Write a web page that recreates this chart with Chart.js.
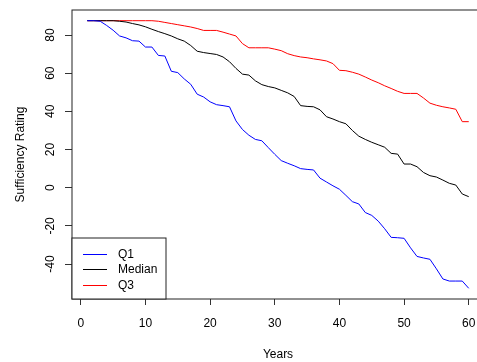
<!DOCTYPE html>
<html><head><meta charset="utf-8">
<script src="https://cdn.jsdelivr.net/npm/chart.js@4/dist/chart.umd.min.js"></script>
<style>html,body{margin:0;padding:0;overflow:hidden;background:#fff;width:477px;height:362px}canvas{display:block}</style>
</head><body>
<canvas id="c" width="490" height="362"></canvas>
<script>
const years = [1,2,3,4,5,6,7,8,9,10,11,12,13,14,15,16,17,18,19,20,21,22,23,24,25,26,27,28,29,30,
  31,32,33,34,35,36,37,38,39,40,41,42,43,44,45,46,47,48,49,50,51,52,53,54,55,56,57,58,59,60];
const q1 = [87.5,87.5,87.2,85.0,82.5,79.5,78.5,77.0,76.8,73.7,73.7,69.3,69.0,61.0,60.3,57.0,54.2,49.0,47.5,45.0,
  43.5,43.0,42.4,35.0,30.5,27.5,25.3,24.6,21.0,17.5,14.2,12.8,11.5,10.0,9.6,9.3,5.0,3.0,1.0,-0.8,
  -4.0,-7.3,-8.5,-13.0,-14.5,-17.5,-21.5,-26.0,-26.2,-26.5,-31.5,-36.0,-36.8,-37.5,-42.5,-47.8,-48.9,-48.9,-48.9,-52.7];
const median = [87.5,87.5,87.5,87.5,87.5,87.2,86.8,86.0,85.3,84.3,83.0,81.8,80.7,79.5,78.0,76.8,74.5,71.5,70.8,70.3,
  69.8,68.5,66.0,62.5,59.5,59.0,56.0,54.0,53.0,52.3,51.0,49.7,47.8,43.0,42.6,42.4,40.8,37.2,36.0,34.6,
  33.5,30.0,27.0,25.3,23.8,22.5,21.2,18.0,17.6,12.4,12.4,11.0,8.0,6.3,5.6,4.0,2.3,1.4,-3.3,-4.7];
const q3 = [87.5,87.5,87.5,87.5,87.5,87.5,87.5,87.5,87.5,87.5,87.5,87.2,86.6,86.0,85.4,84.8,84.2,83.4,82.4,82.4,
  82.4,81.5,80.5,79.5,75.5,73.3,73.3,73.3,73.3,72.6,71.8,70.2,69.2,68.5,68.1,67.5,67.0,66.4,65.0,61.5,
  61.3,60.5,59.5,58.0,56.4,55.0,53.4,52.0,50.5,49.4,49.4,49.4,47.0,44.3,43.2,42.4,41.8,41.1,34.6,34.6];
const seriesNames = ['Q1','Median','Q3'];
const seriesColors = ['#0000ff','#000000','#ff0000'];
const xTicks = [0,10,20,30,40,50,60];
const yTicks = [-40,-20,0,20,40,60,80];
const xTitle = 'Years';
const yTitle = 'Sufficiency Rating';

const FONT = '"Liberation Sans", Arial, sans-serif';
const series = [q1, median, q3];

const rPlot = {
  id: 'rPlot',
  afterDraw(chart) {
    const {ctx, chartArea: a} = chart;
    ctx.save();
    ctx.strokeStyle = '#222';
    ctx.lineWidth = 1;
    ctx.strokeRect(a.left, a.top, a.right - a.left, a.bottom - a.top);
    const w = 94, h = 61;
    const lx = a.left, ly = a.bottom - h;
    ctx.fillStyle = '#fff';
    ctx.fillRect(lx, ly, w, h);
    ctx.strokeRect(lx, ly, w, h);
    ctx.font = '12px ' + FONT;
    ctx.textBaseline = 'middle';
    ctx.textAlign = 'left';
    chart.data.datasets.forEach((ds, i) => {
      const y = Math.round(ly + 15.5 + i * 15.9) + 0.5;
      ctx.strokeStyle = ds.borderColor;
      ctx.beginPath(); ctx.moveTo(lx + 11, y); ctx.lineTo(lx + 35, y); ctx.stroke();
      ctx.fillStyle = '#000';
      ctx.fillText(ds.label, lx + 46, y + 0.5);
    });
    ctx.restore();
  }
};

new Chart(document.getElementById('c'), {
  type: 'line',
  data: {
    datasets: series.map((s, i) => ({
      label: seriesNames[i],
      data: years.map((x, j) => ({x, y: s[j]})),
      borderColor: seriesColors[i],
      borderWidth: 1,
      pointRadius: 0,
      tension: 0,
      fill: false
    }))
  },
  options: {
    responsive: false,
    animation: false,
    layout: {padding: {top: 10, right: 6, left: 0, bottom: 0}},
    plugins: {legend: {display: false}, tooltip: {enabled: false}},
    scales: {
      x: {
        type: 'linear', min: -1.36, max: 62.36,
        afterBuildTicks: s => { s.ticks = xTicks.map(v => ({value: v})); },
        afterFit: s => { s.height = 63; s.paddingLeft = 0; s.paddingRight = 0; },
        grid: {drawOnChartArea: false, drawTicks: true, tickLength: 6, tickColor: '#333'},
        border: {display: false},
        ticks: {color: '#000', font: {family: FONT, size: 12}, padding: 11, maxRotation: 0, autoSkip: false},
        title: {display: true, text: xTitle, color: '#000', font: {family: FONT, size: 12}, padding: {top: 0, bottom: 0}}
      },
      y: {
        type: 'linear', min: -58.3, max: 93.1,
        afterBuildTicks: s => { s.ticks = yTicks.map(v => ({value: v})); },
        afterFit: s => { s.width = 72; s.paddingTop = 0; s.paddingBottom = 0; },
        grid: {drawOnChartArea: false, drawTicks: true, tickLength: 7, tickColor: '#333'},
        border: {display: false},
        ticks: {color: '#000', font: {family: FONT, size: 12}, padding: 6, minRotation: 90, maxRotation: 90, crossAlign: 'center', autoSkip: false},
        title: {display: true, text: yTitle, color: '#000', font: {family: FONT, size: 12}, padding: {top: 13, bottom: 0}}
      }
    }
  },
  plugins: [rPlot]
});
</script>
</body></html>
